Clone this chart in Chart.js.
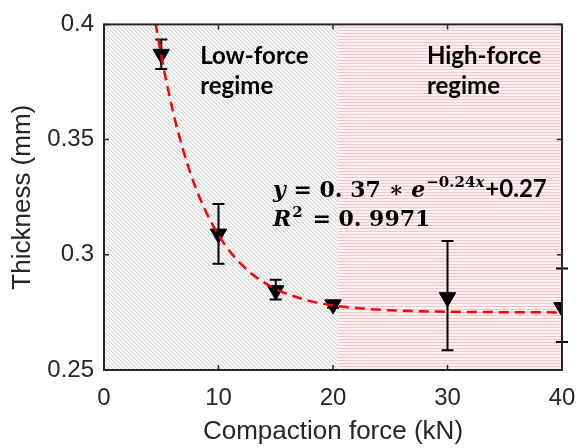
<!DOCTYPE html>
<html><head><meta charset="utf-8">
<script src="https://cdn.jsdelivr.net/npm/chart.js@4.4.0/dist/chart.umd.min.js"></script>
<style>html,body{margin:0;padding:0;background:#fff;overflow:hidden}</style>
</head><body>
<canvas id="c" width="576" height="448"></canvas>
<script>
// ---- data ----
const xForce     = [5, 10, 15, 20, 30, 40];
const thickness  = [0.3871, 0.3091, 0.2845, 0.2784, 0.2815, 0.2772];
const errUpper   = [0.3935, 0.3220, 0.2892, 0.2800, 0.3060, 0.2940];
const errLower   = [0.3806, 0.2961, 0.2806, 0.2770, 0.2586, 0.2621];
const fitX = [4.5, 5, 6, 7, 8, 9, 10, 11, 12, 13, 14, 15, 16, 18, 20, 22, 25, 30, 35, 40];
const fitY = [0.4006, 0.3864, 0.3627, 0.3440, 0.3292, 0.3177, 0.3086, 0.3014, 0.2958, 0.2913,
              0.2879, 0.2851, 0.2830, 0.2799, 0.2780, 0.2769, 0.2759, 0.2753, 0.2751, 0.2750];
const xTicks = [0, 10, 20, 30, 40];
const xTickLabels = ['0', '10', '20', '30', '40'];
const yTicks = [0.25, 0.3, 0.35, 0.4];
const yTickLabels = ['0.25', '0.3', '0.35', '0.4'];
const regimeStart = [0, 20.4];
const regimeEnd   = [20.4, 40];
const regimeLabel = [["Low-force", "regime"], ["High-force", "regime"]];
const regimeLabelX = [8.4, 28.2];
const regimeLabelY = 0.3828;
const eqX = 14.76, eqY1 = 0.3250, eqY2 = 0.3125;

const AX = '#262626';
const SANS = '"Liberation Sans", Arial, sans-serif';
const SERIF = '"DejaVu Serif", serif';

function makePattern(ctx, kind) {
  const n = kind === 'diag' ? 4 : 3;
  const c = document.createElement('canvas');
  c.width = n; c.height = n;
  const g = c.getContext('2d');
  const img = g.createImageData(n, n);
  for (let y = 0; y < n; y++) for (let x = 0; x < n; x++) {
    let col;
    if (kind === 'diag') {
      const m = ((x - y) % 4 + 4) % 4;
      col = m === 0 ? [208,208,208] : (m === 1 ? [236,236,236] : [255,255,255]);
    } else {
      col = y === 0 ? [245,198,198] : [253,241,241];
    }
    const i = (y * n + x) * 4;
    img.data[i] = col[0]; img.data[i+1] = col[1]; img.data[i+2] = col[2]; img.data[i+3] = 255;
  }
  g.putImageData(img, 0, 0);
  return ctx.createPattern(c, 'repeat');
}

function drawRich(ctx, x, y, parts) {
  for (const p of parts) {
    ctx.font = p.font;
    x += (p.pre || 0);
    ctx.fillText(p.t, x, y + (p.dy || 0));
    x += ctx.measureText(p.t).width + (p.post || 0);
  }
}

const regimePlugin = {
  id: 'regimes',
  beforeDatasetsDraw(chart) {
    const {ctx, chartArea: a, scales: {x, y}} = chart;
    ctx.save();
    const pats = [makePattern(ctx, 'diag'), makePattern(ctx, 'horiz')];
    for (let i = 0; i < regimeStart.length; i++) {
      const x0 = x.getPixelForValue(regimeStart[i]);
      const x1 = x.getPixelForValue(regimeEnd[i]);
      ctx.fillStyle = pats[i];
      ctx.fillRect(x0, a.top, x1 - x0, a.bottom - a.top);
    }
    // error bars
    ctx.strokeStyle = '#000';
    ctx.lineWidth = 2;
    for (let i = 0; i < xForce.length; i++) {
      const px = x.getPixelForValue(xForce[i]);
      const pt = y.getPixelForValue(errUpper[i]);
      const pb = y.getPixelForValue(errLower[i]);
      ctx.beginPath();
      ctx.moveTo(px, pt); ctx.lineTo(px, pb);
      ctx.moveTo(px - 6, pt); ctx.lineTo(px + 6, pt);
      ctx.moveTo(px - 6, pb); ctx.lineTo(px + 6, pb);
      ctx.stroke();
    }
    ctx.restore();
  },
  afterDatasetsDraw(chart) {
    const {ctx, chartArea: a, scales: {x, y}} = chart;
    ctx.save();
    // frame
    ctx.strokeStyle = AX;
    ctx.lineWidth = 2;
    ctx.strokeRect(a.left, a.top, a.right - a.left, a.bottom - a.top);
    ctx.lineWidth = 1.5;
    ctx.beginPath();
    for (const v of xTicks) {
      const px = x.getPixelForValue(v);
      ctx.moveTo(px, a.bottom); ctx.lineTo(px, a.bottom - 5);
      ctx.moveTo(px, a.top); ctx.lineTo(px, a.top + 5);
    }
    for (const v of yTicks) {
      const py = y.getPixelForValue(v);
      ctx.moveTo(a.left, py); ctx.lineTo(a.left + 5, py);
      ctx.moveTo(a.right, py); ctx.lineTo(a.right - 5, py);
    }
    ctx.stroke();
    // regime labels
    ctx.fillStyle = '#000';
    ctx.textBaseline = 'alphabetic';
    ctx.textAlign = 'left';
    ctx.font = 'bold 24px Lato, sans-serif';
    for (let i = 0; i < regimeLabel.length; i++) {
      const px = x.getPixelForValue(regimeLabelX[i]);
      const py = y.getPixelForValue(regimeLabelY);
      ctx.fillText(regimeLabel[i][0], px, py);
      ctx.fillText(regimeLabel[i][1], px, py + 30);
    }
    // equation
    const ex = x.getPixelForValue(eqX);
    const bi = 'italic bold 22px ' + SERIF, b = 'bold 22px ' + SERIF;
    const sb = 'bold 15px ' + SERIF, sbi = 'italic bold 15px ' + SERIF;
    drawRich(ctx, ex, y.getPixelForValue(eqY1), [
      {t: 'y', font: bi},
      {t: ' = ', font: b},
      {t: '0. 37 ', font: b},
      {t: '\u2217 ', font: b},
      {t: 'e', font: bi},
      {t: '\u22120.24', font: sb, dy: -10, pre: 1},
      {t: 'x', font: sbi, dy: -10},
      {t: '+0.27', font: 'bold 24px Lato, sans-serif', pre: 1}
    ]);
    drawRich(ctx, ex, y.getPixelForValue(eqY2), [
      {t: 'R', font: bi},
      {t: '2', font: sb, dy: -9, pre: 1},
      {t: ' = ', font: b, pre: 2},
      {t: '0. 9971', font: b}
    ]);
    ctx.restore();
  }
};

const ctx = document.getElementById('c').getContext('2d');
new Chart(ctx, {
  type: 'scatter',
  data: {
    datasets: [
      {
        type: 'line', label: 'fit',
        data: fitX.map((v, i) => ({x: v, y: fitY[i]})),
        borderColor: '#ff0000', borderWidth: 2.5, borderDash: [10, 6],
        pointRadius: 0, fill: false, cubicInterpolationMode: 'monotone'
      },
      {
        type: 'scatter', label: 'data',
        data: xForce.map((v, i) => ({x: v, y: thickness[i]})),
        pointStyle: 'triangle', rotation: 180, pointRadius: 9.5,
        backgroundColor: '#000', borderColor: '#000', borderWidth: 1
      }
    ]
  },
  options: {
    responsive: false, animation: false, devicePixelRatio: 1,
    layout: {padding: {top: 22, right: 0, left: 0, bottom: 0}},
    plugins: {legend: {display: false}, tooltip: {enabled: false}},
    scales: {
      x: {
        type: 'linear', min: 0, max: 40,
        afterBuildTicks: s => { s.ticks = xTicks.map(v => ({value: v})); },
        afterFit: s => { s.height = 78; s.paddingRight = 14; s.paddingLeft = 0; },
        grid: {display: false, drawTicks: false}, border: {display: false},
        ticks: {font: {family: SANS, size: 24}, color: AX, padding: 14, maxRotation: 0,
                callback: (v, i) => xTickLabels[i]},
        title: {display: true, text: 'Compaction force (kN)', color: AX,
                font: {family: SANS, size: 26}, padding: {top: 0, bottom: 1}}
      },
      y: {
        type: 'linear', min: 0.25, max: 0.4,
        afterBuildTicks: s => { s.ticks = yTicks.map(v => ({value: v})); },
        afterFit: s => { s.width = 104; },
        grid: {display: false, drawTicks: false}, border: {display: false},
        ticks: {font: {family: SANS, size: 24}, color: AX, padding: 10,
                callback: (v, i) => yTickLabels[i]},
        title: {display: true, text: 'Thickness (mm)', color: AX,
                font: {family: SANS, size: 26}, padding: {top: 7, bottom: 0}}
      }
    }
  },
  plugins: [regimePlugin]
});
</script>
</body></html>
